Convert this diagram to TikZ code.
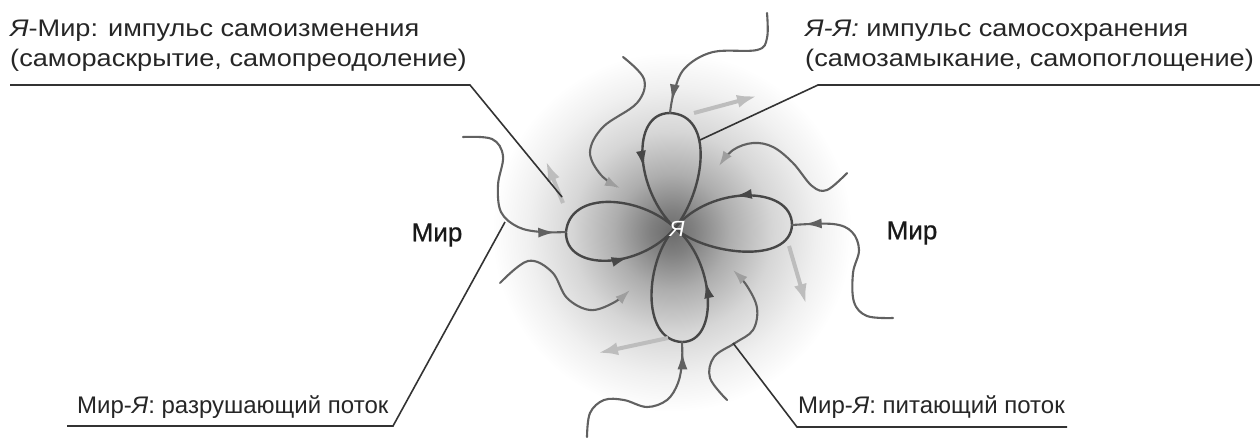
\documentclass[tikz,border=0pt]{standalone}
\usepackage{fontspec}
\setmainfont{Liberation Sans}
\usetikzlibrary{arrows.meta,decorations.markings}
\pgfdeclareradialshading{glow}{\pgfpoint{0bp}{0bp}}{color(0bp)=(black!58); color(3bp)=(black!50); color(8bp)=(black!32); color(14bp)=(black!16); color(20bp)=(black!6); color(25bp)=(white); color(50bp)=(white)}
\tikzset{
  lbl/.style={inner sep=0pt, anchor=base west, text=black!85, font=\fontsize{24}{28}\selectfont},
  toplbl/.style={lbl, xscale=1.13},
  mir/.style={inner sep=0pt, text=black!90, font=\fontsize{26}{28}\selectfont\addfontfeature{FakeBold=0.8}},
  petal/.style={draw=black!72, line width=2.4pt},
  wave/.style={draw=black!62, line width=2.1pt, line cap=round},
  pointer/.style={draw=black!80, line width=1.6pt},
  outarrow/.style={draw=black!26, line width=4pt, -{Latex[length=20pt,width=13pt]}},
  fadetip/.style={-{Latex[length=15pt,width=10pt,color=black!38]}},
  darktip/.style={postaction={decorate}, decoration={markings, mark=at position #1 with {\arrow{Latex[length=17pt,width=10pt]}}}}
}
\begin{document}
\begin{tikzpicture}[x=1pt,y=-1pt]
\useasboundingbox (0,0) rectangle (1260,437);
% glow
\shade[shading=glow] (672,232) circle (180pt);
% key points
\coordinate (C) at (675,228);
\coordinate (Ttip) at (670,113);
\coordinate (Ltip) at (566,232);
\coordinate (Rtip) at (792,225);
\coordinate (Btip) at (682,342);
% petals
\draw[petal, darktip=0.75] (C) .. controls (705,190) and (715,115) .. (Ttip) .. controls (630,113) and (635,190) .. (C);
\draw[petal, darktip=0.79] (C) .. controls (640,195) and (570,190) .. (Ltip) .. controls (565,272) and (640,270) .. (C);
\draw[petal, darktip=0.75] (C) .. controls (705,255) and (790,265) .. (Rtip) .. controls (792,185) and (710,185) .. (C);
\draw[petal, darktip=0.77] (C) .. controls (645,260) and (640,340) .. (Btip) .. controls (720,342) and (715,260) .. (C);
% centre
\node[inner sep=0pt, text=white, font=\fontsize{22}{24}\selectfont\itshape] (ya) at (677,229) {Я};
% incoming (feeding) waves
\draw[wave, darktip=0.93] plot[smooth, tension=0.6] coordinates {(767,13) (767,38) (757,50) (713,52) (685,68) (674,92) (Ttip)};
\draw[wave, darktip=0.94] plot[smooth, tension=0.6] coordinates {(463,137) (492,139) (503,156) (498,185) (501,212) (518,227) (541,232) (Ltip)};
\draw[wave, darktip=0.93] plot[smooth, tension=0.6] coordinates {(893,318) (867,316) (854,302) (853,273) (859,250) (852,232) (833,224) (Rtip)};
\draw[wave, darktip=0.94] plot[smooth, tension=0.6] coordinates {(587,437) (590,413) (604,400) (624,400) (647,407) (667,400) (678,383) (682,362) (Btip)};
% other waves
\draw[wave, fadetip] plot[smooth, tension=0.6] coordinates {(623,57) (644,79) (637,103) (603,127) (590,152) (601,175) (620,188)};
\draw[wave, fadetip] plot[smooth, tension=0.6] coordinates {(847,173) (827,190) (812,186) (793,163) (773,147) (753,143) (733,150) (719,166)};
\draw[wave, fadetip] plot[smooth, tension=0.6] coordinates {(727,400) (710,378) (714,357) (735,343) (753,330) (757,308) (747,286) (733,270)};
\draw[wave, fadetip] plot[smooth, tension=0.6] coordinates {(500,283) (528,261) (552,272) (567,298) (590,310) (613,303) (630,290)};
% outgoing light arrows
\coordinate (o1s) at (694,113); \coordinate (o1e) at (757,96);
\coordinate (o2s) at (789,246); \coordinate (o2e) at (806,304);
\coordinate (o3s) at (668,338); \coordinate (o3e) at (598,353);
\coordinate (o4s) at (563,203); \coordinate (o4e) at (546,161);
\draw[outarrow] (o1s) -- (o1e);
\draw[outarrow] (o2s) -- (o2e);
\draw[outarrow] (o3s) -- (o3e);
\draw[outarrow] (o4s) -- (o4e);
% labels
\node[toplbl] (l1a) at (10,36) {{\itshape Я}-Мир: импульс самоизменения};
\node[toplbl] (l1b) at (10,66) {(самораскрытие, самопреодоление)};
\node[toplbl] (l2a) at (805,36) {{\itshape Я-Я:} импульс самосохранения};
\node[toplbl] (l2b) at (805,66) {(самозамыкание, самопоглощение)};
\node[lbl] (l3) at (77,413) {Мир-{\itshape Я}: разрушающий поток};
\node[lbl] (l4) at (798,413) {Мир-{\itshape Я}: питающий поток};
\node[mir] (m1) at (437,235) {Мир};
\node[mir] (m2) at (912,233) {Мир};
% pointers
\coordinate (u1s) at (10,85); \coordinate (u1k) at (470,85); \coordinate (u1e) at (562,197);
\coordinate (u2s) at (1260,85); \coordinate (u2k) at (818,85); \coordinate (u2e) at (700,140);
\coordinate (u3s) at (67,426); \coordinate (u3k) at (393,426); \coordinate (u3e) at (505,222);
\coordinate (u4s) at (1067,427); \coordinate (u4k) at (797,427); \coordinate (u4e) at (733,343);
\draw[pointer] (u1s) -- (u1k) -- (u1e);
\draw[pointer] (u2s) -- (u2k) -- (u2e);
\draw[pointer] (u3s) -- (u3k) -- (u3e);
\draw[pointer] (u4s) -- (u4k) -- (u4e);
\end{tikzpicture}
\end{document}
